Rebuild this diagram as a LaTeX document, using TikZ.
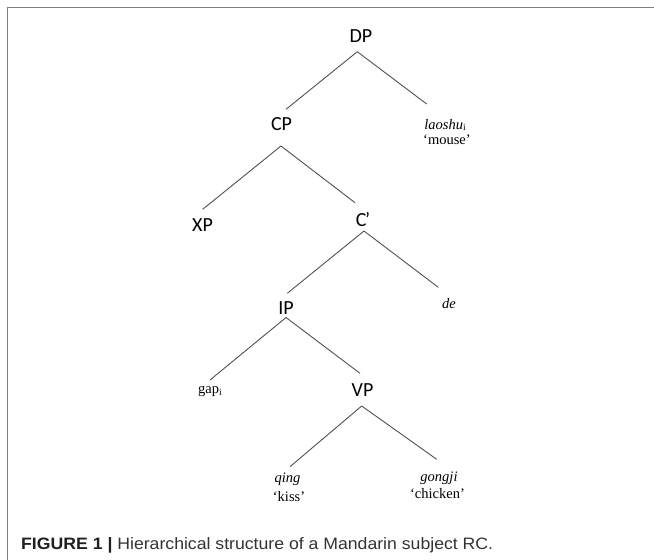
\documentclass[tikz,border=0pt]{standalone}
\usepackage{fontspec}
\setmainfont{Liberation Serif}
\newfontfamily\treefont{Carlito}
\newfontfamily\captfont[FakeStretch=1.07]{Liberation Sans}
\usetikzlibrary{calc}
\definecolor{framegray}{HTML}{7F7F7F}
\definecolor{linegray}{HTML}{505050}
\definecolor{captgray}{HTML}{333333}
\tikzset{
  x=1pt, y=-1pt,
  cat/.style={inner sep=0pt, anchor=base, font=\treefont\fontsize{20}{22}\selectfont},
  word/.style={inner sep=0pt, anchor=base, font=\fontsize{14.5}{16}\selectfont},
  branch/.style={draw=linegray, line width=0.9pt},
  frameline/.style={draw=framegray, line width=1.8pt},
}
\newcommand{\sbi}{\raisebox{-0.3ex}{\fontsize{9.5}{10}\selectfont i}}
\begin{document}
\begin{tikzpicture}
\useasboundingbox (0,0) rectangle (654,560);
\coordinate (ftr) at (654,7.5);
\coordinate (ftl) at (7.5,7.5);
\coordinate (fbl) at (7.5,560);
\draw[frameline] (ftr) -- (ftl) -- (fbl);

\node[cat] (DP) at (361,42) {DP};
\node[cat] (CP) at (281.5,130) {CP};
\node[word] (laoshu) at (445,129) {\textit{laoshu}\sbi};
\node[word] (mouse) at (447,144) {‘mouse’};
\node[cat] (XP) at (202.5,231) {XP};
\node[cat] (Cbar) at (363,226) {C\kern-1.5pt’};
\node[cat] (IP) at (286,314) {IP};
\node[word] (de) at (449,308) {\textit{de}};
\node[word] (gap) at (210,393) {gap\sbi};
\node[cat] (VP) at (362.5,396) {VP};
\node[word] (qing) at (287.5,482) {\textit{qing}};
\node[word] (kiss) at (289,501) {‘kiss’};
\node[word] (gongji) at (439,481) {\textit{gongji}};
\node[word] (chicken) at (437.5,498) {‘chicken’};

\draw[branch] ([shift={(-3.7,9.7)}]DP.base) -- ([shift={(4.5,-20.7)}]CP.base);
\draw[branch] ([shift={(-3.7,9.7)}]DP.base) -- ([shift={(-18.3,-25)}]laoshu.base);
\draw[branch] ([shift={(-0.5,16)}]CP.base) -- ([shift={(0.2,-21.7)}]XP.base);
\draw[branch] ([shift={(-0.5,16)}]CP.base) -- ([shift={(-8,-23.3)}]Cbar.base);
\draw[branch] ([shift={(1,5)}]Cbar.base) -- ([shift={(1.3,-20.7)}]IP.base);
\draw[branch] ([shift={(1,5)}]Cbar.base) -- ([shift={(-10.7,-20.7)}]de.base);
\draw[branch] ([shift={(0,3.5)}]IP.base) -- ([shift={(0,-13)}]gap.base);
\draw[branch] ([shift={(0,3.5)}]IP.base) -- ([shift={(-2.5,-22.7)}]VP.base);
\draw[branch] ([shift={(-0.8,10)}]VP.base) -- ([shift={(2.5,-15.3)}]qing.base);
\draw[branch] ([shift={(-0.8,10)}]VP.base) -- ([shift={(-2.3,-21.7)}]gongji.base);

\node[inner sep=0pt, anchor=base west, text=captgray, font=\captfont\fontsize{16.5}{19}\selectfont] (caption) at (21,549)
  {\textcolor{black!88}{\bfseries FIGURE 1 |} Hierarchical structure of a Mandarin subject RC.};
\end{tikzpicture}
\end{document}
